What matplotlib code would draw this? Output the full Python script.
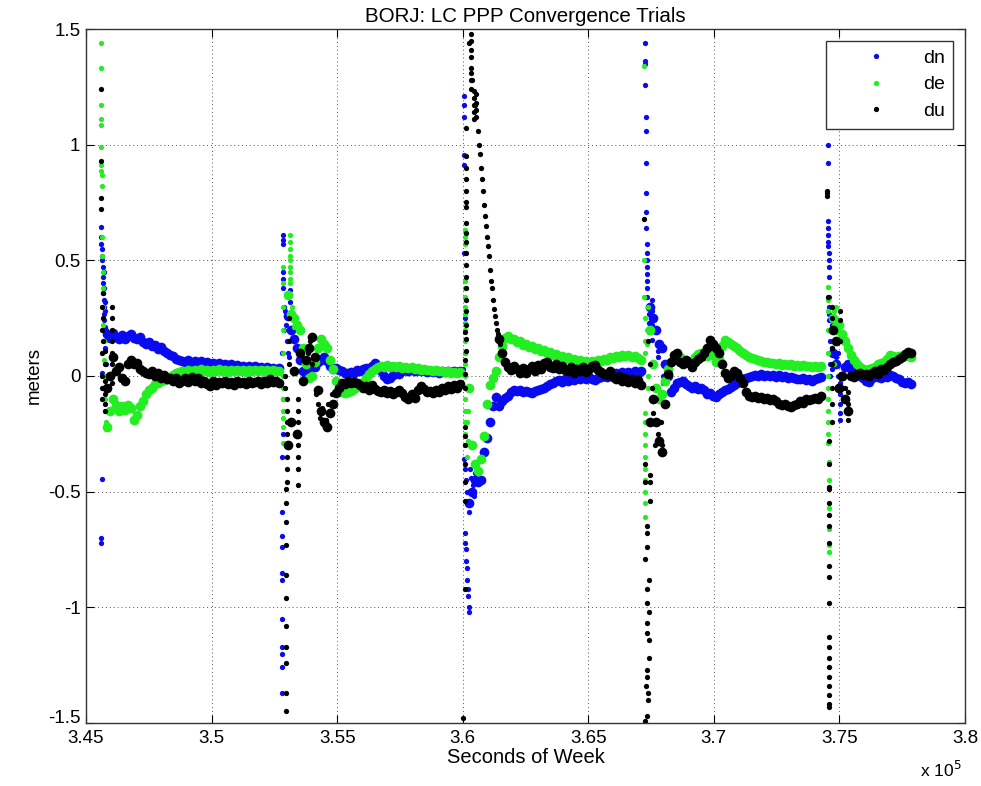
import numpy as np
import matplotlib
matplotlib.use('Agg')
import matplotlib.pyplot as plt
from matplotlib.transforms import ScaledTranslation

nan = np.nan

# start of each convergence trial (seconds of week) and the epoch spacing of the tracks
trial_start = [345600, 352800, 360000, 367200, 374500]
track_offset = 240
track_step = 120

# converged part of every trial, one value per epoch (meters)
dn_track = [
    [0.18, 0.165, 0.185, 0.17, 0.162, 0.178, 0.158, 0.172, 0.18, 0.165,
     0.158, 0.168, 0.148, 0.14, 0.148, 0.128, 0.136, 0.118, 0.126, 0.106,
     0.1, 0.092, 0.085, 0.074, 0.07, 0.066, 0.06, 0.07, 0.058, 0.066,
     0.056, 0.063, 0.052, 0.06, 0.05, 0.058, 0.048, 0.054, 0.046, 0.052,
     0.043, 0.05, 0.04, 0.047, 0.038, 0.045, 0.036, 0.043, 0.034, 0.041,
     0.033, 0.039, 0.032, 0.04, 0.03, 0.036, 0.028, 0.034],
    [0.26, 0.2, 0.16, 0.12, 0.07, 0.02, -0.01, 0.02, 0.05, 0.04,
     0.06, 0.07, 0.08, 0.065, 0.045, 0.03, 0.035, 0.025, 0.02, 0.015,
     0.012, 0.018, 0.015, 0.025, 0.02, 0.03, 0.035, 0.03, 0.045, 0.055,
     0.04, 0.02, 0.0, -0.015, -0.01, 0.005, 0.015, 0.01, 0.02, 0.025,
     0.02, 0.028, 0.022, 0.026, 0.02, 0.024, 0.018, 0.022, 0.016, 0.02,
     0.015, 0.02, 0.017, 0.022, 0.016, 0.02, 0.018, 0.022],
    [-0.55, -0.5, -0.45, -0.46, -0.45, -0.33, -0.27, -0.2, -0.13, -0.09,
     -0.13, -0.11, -0.095, -0.085, -0.07, -0.06, -0.065, -0.06, -0.07, -0.065,
     -0.07, -0.075, -0.065, -0.06, -0.055, -0.05, -0.045, -0.035, -0.03, -0.022,
     -0.018, -0.024, -0.015, -0.02, -0.012, -0.017, -0.01, -0.014, -0.006, -0.012,
     -0.004, -0.012, -0.016, -0.008, -0.004, 0.002, -0.006, 0.004, 0.01, 0.012,
     0.008, 0.016, 0.01, 0.018, 0.012, 0.02, 0.014, 0.02],
    [0.3, 0.25, 0.2, 0.14, 0.12, 0.05, 0.0, -0.07, -0.05, -0.03,
     -0.025, -0.02, -0.035, -0.045, -0.05, -0.045, -0.058, -0.05, -0.062, -0.08,
     -0.072, -0.088, -0.092, -0.078, -0.07, -0.062, -0.055, -0.048, -0.04, -0.03,
     -0.02, -0.015, -0.01, -0.004, 0.0, 0.006, 0.001, 0.007, -0.002, 0.005,
     -0.002, 0.004, -0.004, 0.003, -0.006, 0.0, -0.008, -0.004, -0.01, -0.012,
     -0.014, -0.01, -0.017, -0.012, -0.02, -0.015, -0.01, -0.005],
    [0.1, 0.05, -0.05, 0.0, 0.04, 0.05, 0.03, 0.02, 0.01, 0.0,
     -0.01, -0.02, -0.025, -0.01, 0.0, -0.005, -0.01, 0.0, -0.005, 0.005,
     0.0, -0.01, -0.015, -0.025, -0.03, -0.025, -0.035],
]

de_track = [
    [-0.22, -0.15, -0.1, -0.125, -0.15, -0.13, -0.145, -0.125, -0.14, -0.19,
     -0.17, -0.13, -0.11, -0.08, -0.06, -0.05, -0.035, -0.03, -0.02, -0.018,
     -0.012, -0.004, 0.006, 0.012, 0.016, 0.022, 0.018, 0.026, 0.02, 0.028,
     0.022, 0.03, 0.02, 0.026, 0.018, 0.028, 0.022, 0.03, 0.02, 0.026,
     0.018, 0.024, 0.02, 0.028, 0.022, 0.026, 0.018, 0.024, 0.02, 0.026,
     0.022, 0.028, 0.02, 0.024, 0.018, 0.026, 0.022, 0.02],
    [0.35, 0.27, 0.25, 0.22, 0.2, 0.12, 0.05, -0.01, 0.0, 0.06,
     0.12, 0.16, 0.14, 0.12, 0.07, 0.03, -0.02, -0.05, -0.07, -0.075,
     -0.07, -0.065, -0.055, -0.045, -0.035, -0.025, -0.01, 0.01, 0.02, 0.03,
     0.04, 0.045, 0.04, 0.048, 0.04, 0.045, 0.038, 0.042, 0.036, 0.04,
     0.034, 0.038, 0.032, 0.035, 0.028, 0.032, 0.025, 0.028, 0.022, 0.025,
     0.02, 0.022, 0.018, 0.02, 0.015, 0.018, 0.014, 0.016],
    [-0.05, -0.3, -0.38, -0.41, -0.36, -0.26, -0.12, -0.04, -0.01, 0.02,
     0.08, 0.13, 0.165, 0.175, 0.158, 0.162, 0.145, 0.152, 0.135, 0.14,
     0.125, 0.13, 0.115, 0.122, 0.108, 0.112, 0.098, 0.104, 0.09, 0.096,
     0.082, 0.088, 0.075, 0.08, 0.068, 0.074, 0.062, 0.068, 0.058, 0.064,
     0.056, 0.063, 0.06, 0.07, 0.066, 0.075, 0.07, 0.08, 0.076, 0.085,
     0.08, 0.09, 0.085, 0.092, 0.082, 0.086, 0.076, 0.07],
    [0.2, 0.05, -0.05, -0.1, -0.08, -0.02, 0.03, 0.06, 0.07, 0.075,
     0.08, 0.07, 0.065, 0.058, 0.066, 0.08, 0.095, 0.1, 0.094, 0.088,
     0.1, 0.09, 0.06, 0.075, 0.13, 0.155, 0.145, 0.14, 0.128, 0.12,
     0.108, 0.1, 0.09, 0.084, 0.078, 0.074, 0.07, 0.066, 0.062, 0.06,
     0.056, 0.055, 0.052, 0.054, 0.049, 0.052, 0.047, 0.05, 0.045, 0.048,
     0.044, 0.047, 0.042, 0.045, 0.04, 0.044, 0.04, 0.042],
    [0.25, 0.2, 0.22, 0.18, 0.15, 0.12, 0.09, 0.07, 0.05, 0.04,
     0.03, 0.025, 0.03, 0.035, 0.04, 0.05, 0.055, 0.06, 0.075, 0.09,
     0.085, 0.08, 0.085, 0.08, 0.09, 0.085, 0.08],
]

# the steep first descent of trial 3 is kept with the scattered epochs below
du_track = [
    [-0.05, 0.0, 0.08, 0.02, 0.04, -0.01, -0.02, 0.05, 0.07, 0.05,
     0.055, 0.03, 0.02, 0.015, 0.01, 0.02, 0.0, 0.015, -0.01, 0.005,
     -0.015, -0.01, -0.02, -0.01, -0.03, -0.02, -0.01, -0.025, -0.005, -0.02,
     -0.01, -0.03, -0.02, -0.035, -0.045, -0.02, -0.04, -0.025, -0.03, -0.02,
     -0.035, -0.025, -0.04, -0.02, -0.03, -0.025, -0.035, -0.02, -0.03, -0.025,
     -0.02, -0.035, -0.02, -0.03, -0.015, -0.025, -0.02, -0.03],
    [-0.3, -0.2, 0.02, -0.25, 0.1, -0.02, 0.07, 0.12, 0.17, 0.08,
     -0.06, -0.15, -0.2, -0.22, -0.16, -0.12, -0.075, -0.05, -0.03, -0.035,
     -0.02, -0.03, -0.025, -0.03, -0.04, -0.05, -0.045, -0.06, -0.04, -0.055,
     -0.065, -0.07, -0.06, -0.075, -0.065, -0.08, -0.07, -0.06, -0.075, -0.09,
     -0.1, -0.08, -0.095, -0.06, -0.045, -0.055, -0.07, -0.065, -0.075, -0.06,
     -0.07, -0.05, -0.06, -0.045, -0.055, -0.04, -0.05, -0.035],
    [nan, nan, nan, nan, nan, nan, nan, nan, nan, nan,
     0.16, 0.1, 0.06, 0.04, 0.025, 0.045, 0.03, 0.015, 0.035, 0.012,
     0.03, 0.045, 0.022, 0.048, 0.032, 0.055, 0.062, 0.04, 0.035, 0.052,
     0.03, 0.042, 0.025, 0.02, 0.038, 0.015, 0.032, 0.02, 0.038, 0.018,
     0.03, 0.042, 0.048, 0.025, 0.018, 0.01, 0.005, 0.02, -0.005, -0.015,
     0.0, -0.02, -0.008, -0.025, -0.012, -0.03, -0.018, -0.04],
    [-0.2, -0.1, -0.2, -0.28, -0.33, -0.12, 0.01, 0.06, 0.09, 0.1,
     0.06, 0.05, 0.07, 0.055, 0.04, 0.06, 0.075, 0.08, 0.1, 0.12,
     0.155, 0.14, 0.12, 0.1, 0.05, 0.015, -0.01, 0.0, 0.02, 0.015,
     -0.01, -0.03, -0.07, -0.085, -0.09, -0.085, -0.095, -0.09, -0.1, -0.095,
     -0.105, -0.1, -0.11, -0.12, -0.125, -0.12, -0.13, -0.135, -0.125, -0.12,
     -0.11, -0.115, -0.1, -0.105, -0.1, -0.095, -0.1, -0.085],
    [0.2, 0.15, -0.05, 0.0, -0.1, -0.15, 0.0, -0.005, 0.01, 0.015,
     0.005, 0.01, 0.0, 0.015, 0.02, 0.01, 0.03, 0.025, 0.04, 0.05,
     0.06, 0.065, 0.075, 0.08, 0.095, 0.105, 0.1],
]

# unconverged first epochs of each trial: (seconds of week, meters)
dn_spikes = [
    (345600, -0.72), (345600, -0.70), (345640, -0.445), (345640, 0.014), (345600, 0.645),
    (345600, 0.6), (345610, 0.57), (345620, 0.55), (345640, 0.52), (345650, 0.5),
    (345660, 0.47), (345670, 0.43), (345680, 0.4), (345690, 0.36), (345700, 0.33),
    (345710, 0.3), (345720, 0.27), (345730, 0.24), (345740, 0.21), (345760, 0.28),
    (345770, 0.12), (345780, 0.05), (345790, -0.05), (345800, 0.2), (345820, 0.16),
    (345700, 0.45), (345720, 0.38), (345740, 0.32),
    (352840, 0.61), (352840, 0.59), (352850, 0.57), (352840, 0.45), (352850, 0.42),
    (352860, 0.38), (352870, 0.3), (352880, 0.2), (352800, -0.35), (352800, -0.59),
    (352800, -0.69), (352800, -0.74), (352800, -0.85), (352800, -0.88), (352800, -1.05),
    (352800, -1.17), (352800, -1.2), (352800, -1.26), (352800, -1.37), (352920, 0.28),
    (352960, 0.22), (353000, 0.15), (353040, 0.1), (353080, 0.08), (352800, 0.1),
    (352840, -0.1), (352840, -0.25), (353120, 0.37), (353120, 0.32),
    (360040, 1.21), (360040, 1.17), (360040, 1.12), (360040, 0.955), (360040, 0.91),
    (360040, 0.53), (360080, 0.25), (360080, 0.1), (360000, 0.03), (360040, -0.36),
    (360080, -0.4), (360120, -0.45), (360160, -0.5), (360200, -0.55), (360240, -0.59),
    (360080, -0.68), (360100, -0.72), (360120, -0.75), (360140, -0.8), (360160, -0.83),
    (360180, -0.88), (360200, -0.92), (360220, -0.95), (360240, -1.0), (360260, -1.02),
    (360280, -0.4), (360320, -0.44), (360360, -0.5), (360400, -0.47), (360440, -0.52),
    (360480, -0.42),
    (367260, 1.44), (367260, 1.36), (367270, 1.35), (367260, 1.26), (367300, 1.12),
    (367300, 1.06), (367300, 0.92), (367300, 0.79), (367300, 0.71), (367300, 0.64),
    (367340, 0.57), (367340, 0.53), (367340, 0.5), (367340, 0.47), (367340, 0.44),
    (367340, 0.41), (367340, 0.38), (367340, 0.34), (367420, 0.27), (367420, 0.23),
    (367420, 0.19), (367540, 0.33), (367540, 0.28), (367540, 0.22), (367540, 0.155),
    (367780, 0.14), (367780, 0.11), (367780, 0.08), (367980, 0.05), (367980, 0.0),
    (367980, -0.03),
    (374540, 1.0), (374540, 0.92), (374540, 0.67), (374540, 0.64), (374540, 0.61),
    (374540, 0.58), (374540, 0.56), (374580, 0.53), (374580, 0.5), (374580, 0.47),
    (374580, 0.43), (374580, 0.34), (374580, 0.3), (374580, 0.27), (374580, 0.24),
    (374620, 0.2), (374620, 0.15), (374620, 0.1), (374620, 0.05), (374620, 0.0),
    (374700, 0.22), (374700, 0.12), (374700, 0.03), (374860, 0.15), (374860, 0.08),
    (375020, -0.03), (375020, -0.08), (375020, -0.12), (375020, -0.16), (375020, -0.19),
    (374940, 0.1), (374940, 0.0), (374940, -0.05),
]

de_spikes = [
    (345600, 1.44), (345600, 1.33), (345600, 1.17), (345600, 1.11), (345600, 1.085),
    (345610, 0.99), (345610, 0.91), (345610, 0.885), (345620, 0.87), (345620, 0.82),
    (345640, 0.6), (345650, 0.52), (345660, 0.45), (345670, 0.38), (345680, 0.3),
    (345690, 0.22), (345700, 0.15), (345710, 0.07), (345720, 0.0), (345730, -0.05),
    (345740, -0.1), (345760, -0.15), (345780, -0.2), (345800, -0.23),
    (353120, 0.61), (353120, 0.58), (353120, 0.55), (353120, 0.52), (353130, 0.5),
    (353130, 0.47), (353130, 0.45), (353140, 0.42), (353140, 0.4), (352840, 0.47),
    (352840, 0.4), (352840, 0.3), (352840, 0.2), (352840, 0.1), (352840, 0.0),
    (352840, -0.05), (352840, -0.1), (352840, -0.15), (352840, -0.18), (352840, -0.22),
    (352840, -0.29), (353200, 0.3), (353240, 0.26), (353280, 0.24), (353300, 0.21),
    (360080, 0.63), (360080, 0.6), (360080, 0.57), (360080, 0.41), (360080, 0.38),
    (360080, 0.34), (360080, 0.3), (360080, 0.27), (360080, 0.23), (360080, 0.2),
    (360080, 0.15), (360080, 0.1), (360080, 0.05), (360080, 0.0), (360080, -0.05),
    (360080, -0.1), (360080, -0.15), (360080, -0.2), (360080, -0.25), (360080, -0.3),
    (360160, -0.35), (360160, -0.2), (360200, -0.28), (360220, -0.15),
    (367220, 1.34), (367220, 0.5), (367220, 0.34), (367260, 0.25), (367260, 0.15),
    (367260, 0.1), (367260, -0.16), (367260, -0.2), (367260, -0.25), (367260, -0.3),
    (367260, -0.35), (367260, -0.4), (367260, -0.45), (367260, -0.5), (367260, -0.55),
    (367260, -0.61), (367340, 0.2), (367340, 0.14), (367380, 0.3), (367380, 0.0),
    (367380, -0.05),
    (374540, 0.385), (374540, 0.33), (374540, 0.28), (374540, 0.2), (374540, 0.1),
    (374540, 0.0), (374540, -0.05), (374540, -0.1), (374540, -0.15), (374540, -0.2),
    (374540, -0.25), (374540, -0.29), (374580, -0.37), (374580, -0.45), (374580, -0.57),
    (374580, -0.66), (374580, -0.73), (374580, -0.76), (374780, 0.28), (374780, 0.22),
    (374780, 0.15), (374780, 0.05), (374860, 0.3), (374860, 0.25),
]

du_spikes = [
    (345600, 1.24), (345600, 0.93), (345600, 0.77), (345600, 0.72), (345640, 0.3),
    (345640, 0.2), (345640, 0.1), (345640, 0.0), (345640, -0.05), (345640, -0.1),
    (345760, 0.11), (345760, 0.05), (345760, -0.02), (345760, -0.08), (345760, -0.12),
    (345760, -0.15), (346040, 0.3), (346040, 0.25), (346040, 0.2), (346040, 0.15),
    (346040, 0.1), (346040, 0.05), (346040, 0.0), (346040, -0.03), (345680, 0.36),
    (345680, 0.25), (345680, 0.15),
    (352960, -0.49), (352960, -0.55), (352960, -0.63), (352960, -0.73), (352960, -0.86),
    (352960, -0.96), (352960, -1.08), (352960, -1.17), (352960, -1.24), (352960, -1.37),
    (352960, -1.45), (353000, -0.1), (353000, -0.15), (353000, -0.2), (353000, -0.25),
    (353000, -0.3), (353000, -0.35), (353000, -0.4), (353000, -0.46), (353440, -0.1),
    (353440, -0.15), (353440, -0.2), (353440, -0.26), (353440, -0.3), (353440, -0.35),
    (353440, -0.4), (353440, -0.47), (353080, 0.25), (353080, 0.15), (353080, 0.05),
    (352920, 0.0), (352920, -0.05), (353840, 0.1), (353920, 0.15), (354000, 0.05),
    (354160, -0.08), (354240, -0.12), (354320, -0.18), (354400, -0.14), (354480, -0.21),
    (354560, -0.19), (354640, -0.12), (354720, -0.15), (354800, -0.08),
    (360320, 1.48), (360320, 1.45), (360320, 1.41), (360320, 1.38), (360320, 1.33),
    (360320, 1.31), (360320, 1.28), (360320, 1.24), (360440, 1.23), (360440, 1.2),
    (360440, 1.17), (360440, 1.14), (360440, 1.11), (360520, 1.22), (360520, 1.18),
    (360520, 1.15), (360520, 1.12), (360120, 1.07), (360120, 0.95), (360120, 0.9),
    (360120, 0.85), (360120, 0.8), (360120, 0.75), (360120, 0.73), (360120, 0.66),
    (360120, 0.62), (360120, 0.58), (360120, 0.53), (360120, 0.48), (360120, 0.43),
    (360120, 0.38), (360120, 0.33), (360120, 0.28), (360120, 0.22), (360120, 0.16),
    (360120, 0.11), (360640, 1.0), (360680, 0.96), (360760, 0.85), (360800, 0.8),
    (360880, 0.69), (360920, 0.65), (361000, 0.56), (361040, 0.52), (361120, 0.41),
    (361160, 0.38), (361240, 0.29), (361280, 0.26), (361360, 0.2), (361400, 0.18),
    (361480, 0.14), (360080, 0.19), (360080, 0.07), (360080, 0.01), (360080, -0.05),
    (360080, -0.22), (360080, -0.26), (360080, -0.3), (360080, -0.38), (360080, -0.46),
    (360080, -0.54), (360080, -0.92), (360000, -1.48),
    (360240, 1.44), (360360, 1.28), (360480, 1.17), (360600, 1.06), (360720, 0.9),
    (360840, 0.74), (360960, 0.6), (361080, 0.46), (361200, 0.33), (361320, 0.23),
    (367220, 0.68), (367260, -0.38), (367260, -0.46), (367460, -0.43), (367460, -0.46),
    (367460, -0.54), (367340, -0.65), (367340, -0.68), (367340, -0.74), (367260, -0.79),
    (367420, -0.88), (367340, -0.92), (367340, -0.98), (367420, -1.02), (367340, -1.07),
    (367340, -1.11), (367420, -1.14), (367420, -1.22), (367340, -1.27), (367340, -1.3),
    (367300, -1.34), (367380, -1.37), (367380, -1.4), (367340, -1.47), (367260, -1.49),
    (367580, -0.16), (367660, -0.3), (367780, -0.25), (367860, -0.33), (367900, -0.2),
    (367940, -0.3), (367700, -0.1), (367540, -0.05), (367460, 0.05), (367380, 0.15),
    (374500, 0.8), (374500, 0.79), (374500, 0.78), (374540, 0.34), (374700, 0.3),
    (374700, 0.25), (374700, 0.2), (374700, 0.12), (374700, 0.05), (374700, -0.05),
    (374700, -0.12), (374700, -0.2), (374580, -0.28), (374580, -0.38), (374580, -0.48),
    (374580, -0.49), (374580, -0.55), (374580, -0.6), (374580, -0.65), (374580, -0.72),
    (374580, -0.82), (374580, -0.87), (374580, -0.98), (374580, -1.13), (374580, -1.17),
    (374580, -1.22), (374580, -1.26), (374580, -1.3), (374580, -1.34), (374580, -1.38),
    (374580, -1.42), (374580, -1.43), (375020, 0.28), (375020, 0.24), (375020, 0.15),
    (375340, -0.07), (375340, -0.12), (375340, -0.15), (375340, -0.19), (375220, -0.05),
    (375220, -0.1),
]

x_ticks = [3.45, 3.5, 3.55, 3.6, 3.65, 3.7, 3.75, 3.8]
y_ticks = [-1.5, -1, -0.5, 0, 0.5, 1, 1.5]

plt.rcParams['font.family'] = ['Liberation Sans', 'DejaVu Sans']

colors = {'dn': '#0a0af0', 'de': '#22ee22', 'du': 'black'}


def track_series(track):
    # one epoch every track_step seconds after each trial start
    t = np.concatenate([s + track_offset + track_step * np.arange(len(v))
                        for s, v in zip(trial_start, track)])
    v = np.concatenate([np.asarray(v, dtype=float) for v in track])
    return t, v


fig = plt.figure(figsize=(9.81, 7.86), dpi=100)
ax = fig.add_axes([0.0877, 0.0802, 0.8960, 0.8829])

for name, track, spikes in [('dn', dn_track, dn_spikes),
                            ('de', de_track, de_spikes),
                            ('du', du_track, du_spikes)]:
    t, v = track_series(track)
    st, sv = map(np.asarray, zip(*spikes))
    ax.plot(t / 1e5, v, linestyle='none', marker='o', markersize=7,
            markeredgewidth=0, color=colors[name])
    ax.plot(st / 1e5, sv, linestyle='none', marker='o', markersize=3.8,
            markeredgewidth=0, color=colors[name], label=name)

ax.set_xlim(3.45, 3.8)
ax.set_ylim(-1.5, 1.5)
ax.set_xticks(x_ticks)
ax.set_xticklabels(['%g' % x for x in x_ticks])
ax.set_yticks(y_ticks)
ax.set_yticklabels(['%g' % y for y in y_ticks])
ax.tick_params(direction='in', length=6, width=0.8, labelsize=13.5,
               top=True, right=True)
ax.tick_params(axis='x', pad=5)
ax.tick_params(axis='y', pad=4)
# lift the lowest y label a little, clear of the first x label
low = ax.get_yticklabels()[0]
low.set_transform(low.get_transform() + ScaledTranslation(0, 5 / 72, fig.dpi_scale_trans))

ax.grid(True, linestyle=(0, (1, 3)), color='#555555', linewidth=0.7)
for sp in ax.spines.values():
    sp.set_linewidth(1.0)
    sp.set_color('#333333')

ax.set_title('BORJ: LC PPP Convergence Trials', fontsize=14.8, pad=5)
ax.set_xlabel('Seconds of Week', fontsize=14.5, labelpad=1)
ax.set_ylabel('meters', fontsize=13.5, labelpad=4)
fig.text(0.980, 0.011, r'x 10$^5$', ha='right', va='baseline', fontsize=12.5)

leg = ax.legend(loc='upper right', fontsize=14, handlelength=4.2, handletextpad=0.3,
                borderaxespad=0.6, labelspacing=0.45, fancybox=False, framealpha=1,
                edgecolor='#333333', borderpad=0.45)
leg.get_frame().set_linewidth(1.0)

fig.savefig('out.png', dpi=100)
